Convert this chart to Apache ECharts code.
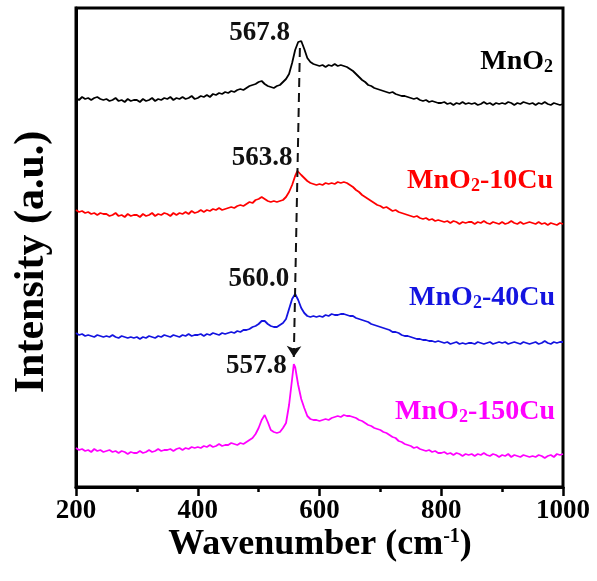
<!DOCTYPE html>
<html>
<head>
<meta charset="utf-8">
<script src="https://cdn.jsdelivr.net/npm/echarts@6.0.0/dist/echarts.min.js"></script>
<style>
  html, body { margin: 0; padding: 0; background: #fff; }
  #chart { width: 597px; height: 581px; }
</style>
</head>
<body>
<div id="chart"></div>
<script>
// Raman spectra of MnO2 and Cu-doped samples, stacked with vertical offsets (a.u.)

// Sample names (the "2" is drawn as a subscript)
const sampleNames = ['MnO2', 'MnO2-10Cu', 'MnO2-40Cu', 'MnO2-150Cu'];
const sampleColors = ['#000000', '#ff0000', '#1414e0', '#ff00ff'];

// Main Mn–O band position (cm-1) and its intensity for each sample
const peakPositions = [567.8, 563.8, 560.0, 557.8];
const peakHeights = [447, 316, 193, 123];

// Spectra are sampled every 5 cm-1 from 200 to 1000 cm-1
const wavenumber = [];
for (let w = 200; w <= 1000; w += 5) wavenumber.push(w);

const xTicks = [200, 400, 600, 800, 1000];

const intensityMnO2 = [
  389, 387, 390, 388, 389, 387, 389, 390, 388, 387,
  388, 386, 387, 389, 386, 387, 385, 388, 386, 387,
  387, 385, 388, 386, 387, 389, 386, 388, 387, 389,
  388, 390, 387, 389, 388, 390, 388, 389, 391, 388,
  389, 391, 390, 392, 390, 393, 392, 394, 393, 395,
  394, 396, 395, 397, 398, 397, 399, 401, 402, 403,
  405, 406, 403, 401, 400, 399, 401, 402, 405, 408,
  413, 424, 437, 445, 446, 438, 429, 425, 423, 422,
  421, 422, 420, 422, 421, 423, 421, 422, 421, 420,
  418, 416, 413, 410, 407, 405, 402, 401, 399, 398,
  397, 396, 395, 394, 395, 393, 392, 391, 391, 390,
  389, 388, 389, 387, 386, 387, 385, 386, 385, 384,
  384, 385, 383, 384, 382, 384, 383, 385, 383, 384,
  383, 384, 382, 383, 385, 383, 384, 382, 384, 383,
  384, 383, 385, 384, 382, 384, 383, 385, 384, 383,
  384, 382, 384, 383, 385, 383, 382, 384, 383, 382,
  383
];

const intensity10Cu = [
  277, 275, 276, 274, 275, 273, 274, 272, 274, 273,
  273, 271, 272, 274, 271, 272, 270, 273, 271, 272,
  272, 270, 273, 271, 272, 274, 271, 273, 272, 274,
  273, 271, 274, 272, 274, 273, 275, 273, 276, 274,
  275, 277, 275, 277, 276, 278, 277, 279, 277, 278,
  279, 280, 279, 281, 282, 281, 283, 285, 284, 287,
  288, 290, 288, 286, 285, 286, 285, 286, 287, 290,
  295, 302, 311, 315, 312, 309, 306, 304, 303, 302,
  303, 302, 304, 303, 304, 303, 305, 304, 305, 304,
  302, 300, 297, 295, 292, 290, 288, 286, 284, 282,
  281, 279, 280, 278, 276, 277, 275, 274, 273, 272,
  271, 270, 271, 269, 268, 269, 267, 268, 266, 267,
  266, 265, 266, 264, 266, 265, 263, 265, 264, 265,
  265, 263, 265, 264, 266, 264, 263, 265, 264, 263,
  265, 263, 264, 266, 264, 263, 265, 263, 264, 265,
  264, 263, 265, 263, 264, 262, 264, 263, 262, 264,
  263
];

const intensity40Cu = [
  154, 152, 153, 151, 152, 151, 150, 152, 151, 150,
  151, 150, 152, 150, 149, 151, 150, 149, 150, 149,
  150, 148, 150, 149, 151, 150, 149, 151, 150, 152,
  151, 150, 152, 151, 150, 152, 151, 153, 151, 152,
  152, 153, 151, 153, 152, 154, 153, 152, 154, 153,
  154, 155, 154, 156, 155, 157, 157, 158, 160, 161,
  163, 166, 166, 163, 161, 160, 160, 162, 164, 168,
  178, 188, 193, 187, 179, 174, 171, 170, 171, 170,
  171, 170, 172, 171, 173, 172, 172, 173, 173, 172,
  171, 171, 169, 168, 167, 166, 165, 163, 162, 161,
  160, 159, 158, 157, 155, 155, 154, 152, 151, 151,
  150, 149, 148, 148, 147, 147, 146, 146, 145, 146,
  145, 144, 145, 143, 144, 145, 143, 144, 143, 144,
  144, 143, 145, 144, 143, 144, 145, 143, 144, 145,
  144, 145, 143, 144, 145, 144, 143, 145, 144, 143,
  144, 145, 143, 144, 146, 144, 143, 145, 144, 145,
  145
];

const intensity150Cu = [
  39, 37, 38, 36, 37, 35, 38, 36, 37, 35,
  36, 37, 35, 36, 34, 36, 35, 33, 35, 34,
  34, 36, 34, 35, 37, 35, 36, 38, 36, 37,
  37, 38, 36, 38, 39, 37, 39, 38, 40, 39,
  40, 39, 41, 40, 42, 40, 41, 43, 41, 42,
  42, 44, 43, 42, 44, 43, 45, 47, 49, 53,
  59, 67, 72, 65, 57, 55, 54, 55, 59, 64,
  82, 108, 120, 102, 88, 79, 71, 68, 67, 67,
  66, 67, 68, 67, 69, 70, 71, 70, 72, 71,
  71, 70, 69, 67, 66, 64, 62, 61, 59, 58,
  57, 55, 54, 52, 50, 49, 46, 45, 43, 42,
  41, 39, 40, 38, 37, 36, 37, 35, 36, 34,
  34, 35, 33, 34, 32, 34, 33, 31, 33, 32,
  33, 31, 33, 32, 34, 32, 31, 33, 32, 30,
  32, 31, 33, 30, 32, 31, 30, 32, 31, 30,
  31, 30, 32, 31, 29, 31, 32, 30, 33, 32,
  33
];

const spectra = [intensityMnO2, intensity10Cu, intensity40Cu, intensity150Cu];

const serifFont = '"Liberation Serif", "Times New Roman", serif';

// Merge the sampled spectrum with its fitted peak maximum
function buildPoints(values, peakPos, peakVal) {
  const pts = [];
  wavenumber.forEach((w, i) => {
    if (Math.abs(w - peakPos) > 0.01) pts.push([w, values[i]]);
  });
  pts.push([peakPos, peakVal]);
  pts.sort((a, b) => a[0] - b[0]);
  return pts;
}

// Where each peak label sits relative to its peak (px)
const peakLabelOffsets = [[-10, -7], [-5, -13], [-6, -15], [-7, 2]];

const series = spectra.map((vals, i) => {
  const s = {
    name: sampleNames[i],
    type: 'line',
    data: buildPoints(vals, peakPositions[i], peakHeights[i]),
    showSymbol: false,
    smooth: false,
    lineStyle: { color: sampleColors[i], width: 1.8 },
    itemStyle: { color: sampleColors[i] },
    z: 3,
    markPoint: {
      silent: true,
      symbol: 'circle',
      symbolSize: 0,
      data: [{ coord: [peakPositions[i], peakHeights[i]], value: peakPositions[i] }],
      label: {
        show: true,
        formatter: peakPositions[i].toFixed(1),
        position: 'left',
        distance: 0,
        offset: peakLabelOffsets[i],
        color: '#111',
        fontFamily: serifFont,
        fontWeight: 'bold',
        fontSize: 27
      }
    }
  };
  if (i === 0) {
    // dashed arrow tracing the red-shift of the band
    s.markLine = {
      silent: true,
      symbol: ['none', 'arrow'],
      symbolSize: 11,
      label: { show: false },
      lineStyle: { color: '#111', width: 2, type: [9, 6] },
      data: [[
        { coord: [peakPositions[0], peakHeights[0] - 8] },
        { coord: [peakPositions[3], peakHeights[3] + 7] }
      ]]
    };
  }
  return s;
});

// Sample names drawn at the right of each trace
const nameYs = [62, 181, 298, 412];
const nameRights = [553, 553, 555, 555];
const nameGraphics = sampleNames.map((n, i) => ({
  type: 'text',
  x: nameRights[i],
  y: nameYs[i],
  z: 10,
  style: {
    text: n.replace('O2', 'O{sub|2}'),
    fill: sampleColors[i],
    fontFamily: serifFont,
    fontWeight: 'bold',
    fontSize: 28,
    align: 'right',
    verticalAlign: 'middle',
    rich: {
      sub: {
        fill: sampleColors[i],
        fontFamily: serifFont,
        fontWeight: 'bold',
        fontSize: 18,
        verticalAlign: 'bottom'
      }
    }
  }
}));

const chart = echarts.init(document.getElementById('chart'), null, { renderer: 'canvas' });

chart.setOption({
  animation: false,
  backgroundColor: '#ffffff',
  grid: {
    left: 76, right: 34, top: 8, bottom: 94,
    show: true,
    borderColor: '#000',
    borderWidth: 3,
    containLabel: false
  },
  xAxis: {
    type: 'value',
    min: xTicks[0],
    max: xTicks[xTicks.length - 1],
    interval: xTicks[1] - xTicks[0],
    axisLine: { show: true, lineStyle: { color: '#000', width: 3 } },
    axisTick: { show: true, inside: false, length: 9, lineStyle: { color: '#000', width: 2.5 } },
    minorTick: { show: true, splitNumber: 2, length: 5, lineStyle: { color: '#000', width: 2.5 } },
    splitLine: { show: false },
    axisLabel: {
      color: '#000',
      fontFamily: serifFont,
      fontWeight: 'bold',
      fontSize: 27,
      margin: 11,
      formatter: (v) => String(v)
    }
  },
  yAxis: {
    type: 'value',
    min: 0,
    max: 479,
    axisLine: { show: true, lineStyle: { color: '#000', width: 3 } },
    axisTick: { show: false },
    axisLabel: { show: false },
    splitLine: { show: false }
  },
  series: series,
  graphic: [
    {
      type: 'text',
      x: 32,
      y: 262,
      rotation: Math.PI / 2,
      style: {
        text: 'Intensity (a.u.)',
        fill: '#000',
        fontFamily: serifFont,
        fontWeight: 'bold',
        fontSize: 42,
        align: 'center',
        verticalAlign: 'middle'
      }
    },
    {
      type: 'text',
      x: 320,
      y: 545,
      style: {
        text: 'Wavenumber (cm{sup|-1})',
        fill: '#000',
        fontFamily: serifFont,
        fontWeight: 'bold',
        fontSize: 36,
        align: 'center',
        verticalAlign: 'middle',
        rich: {
          sup: {
            fill: '#000',
            fontFamily: serifFont,
            fontWeight: 'bold',
            fontSize: 20,
            verticalAlign: 'top'
          }
        }
      }
    }
  ].concat(nameGraphics)
});
</script>
</body>
</html>
